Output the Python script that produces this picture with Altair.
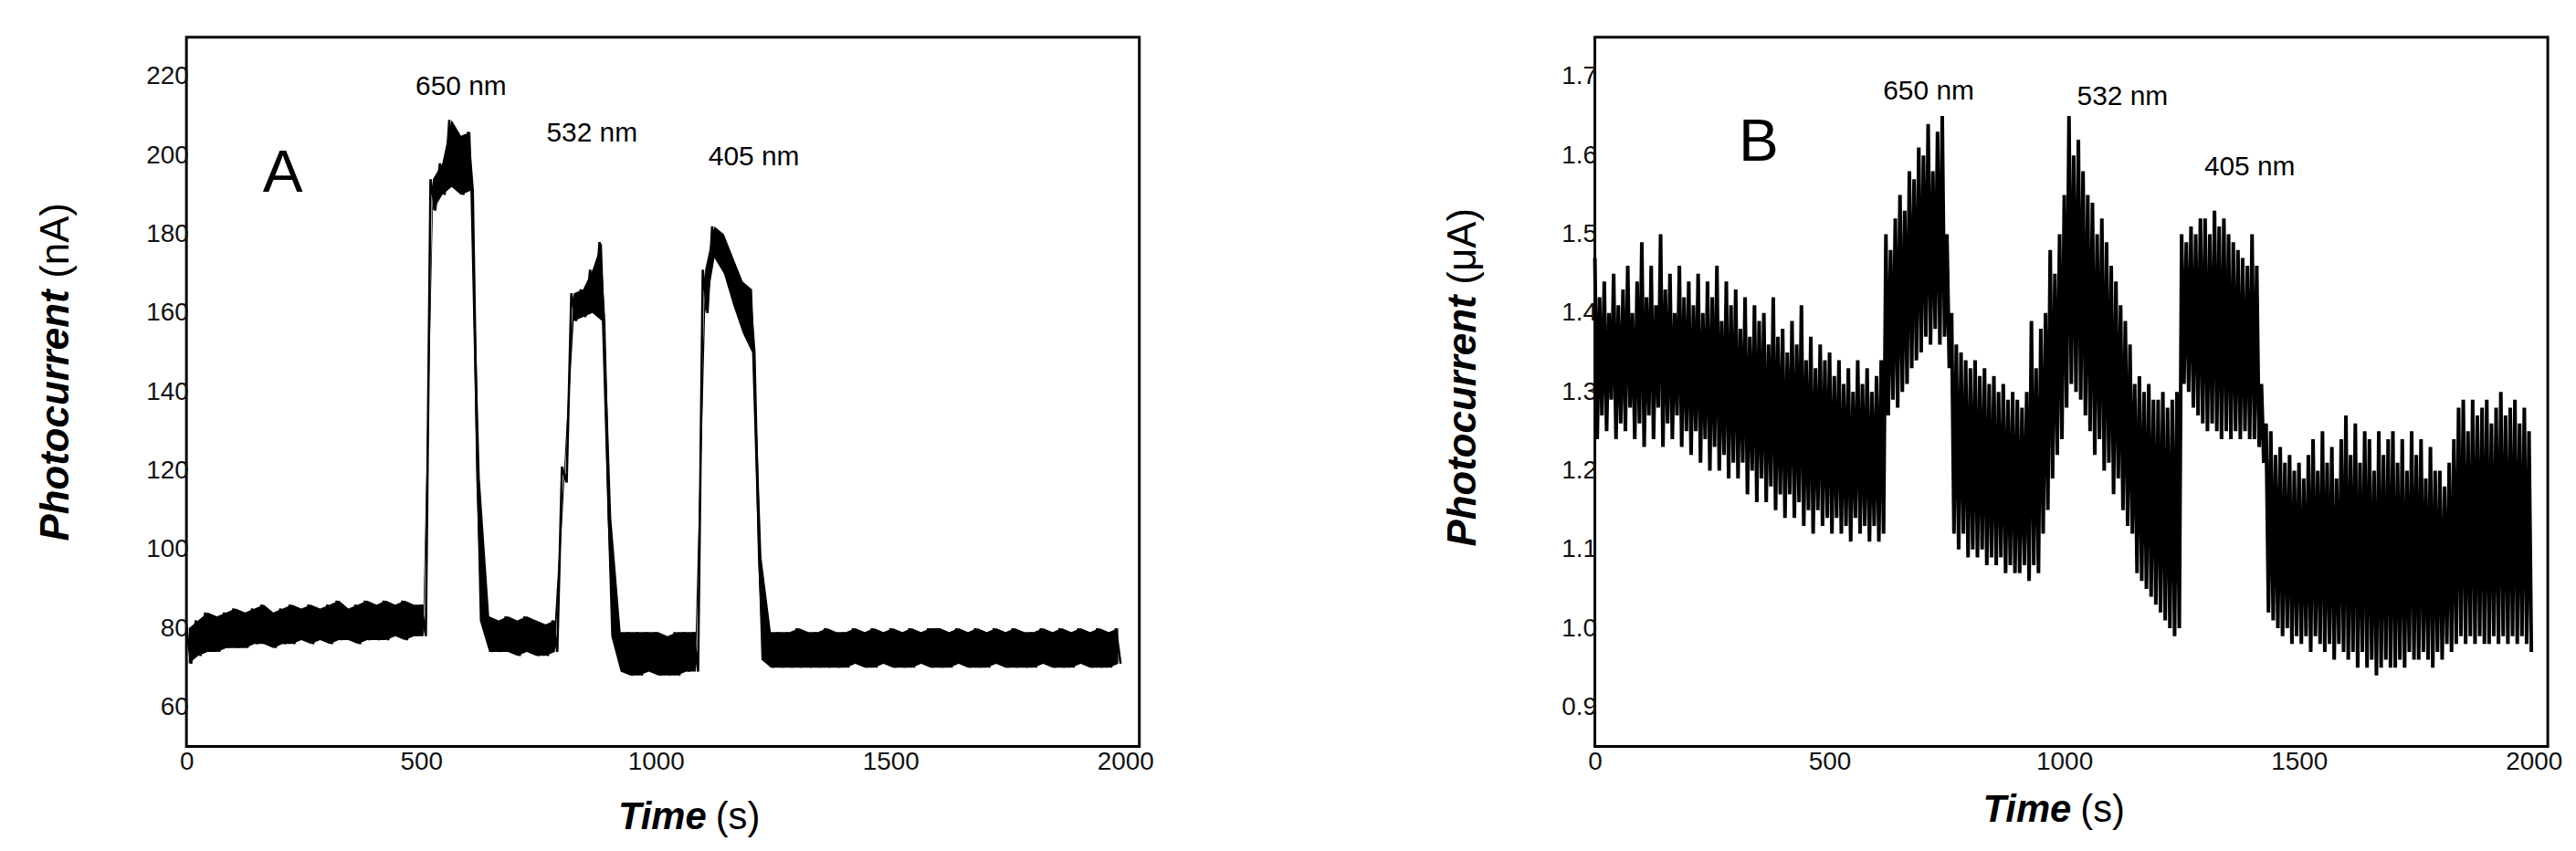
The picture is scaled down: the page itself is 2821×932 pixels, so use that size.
import altair as alt
import pandas as pd

# ---------------- data ----------------
# Panel A: photocurrent (nA), sampled every 20 s, upper / lower envelope of the noisy trace
A_STEP = 20
a_hi = [80, 82, 84, 83, 84, 85, 84, 85, 86, 84,
        85, 86, 85, 86, 85, 86, 87, 85, 86, 87,
        86, 87, 86, 87, 86, 86, 194, 198, 209, 205,
        206, 118, 83, 82, 83, 82, 83, 82, 81, 82,
        121, 165, 166, 171, 178, 108, 79, 79, 79, 79,
        79, 78, 79, 79, 79, 171, 182, 180, 174, 168,
        166, 98, 79, 79, 79, 80, 79, 79, 80, 79,
        79, 80, 79, 80, 79, 80, 79, 80, 79, 80,
        80, 79, 80, 79, 80, 79, 80, 79, 80, 79,
        79, 80, 79, 80, 79, 80, 79, 80, 79, 80]
a_lo = [71, 73, 74, 74, 75, 75, 75, 76, 76, 75,
        76, 76, 77, 76, 77, 76, 77, 77, 76, 77,
        77, 77, 78, 77, 78, 78, 186, 190, 192, 190,
        191, 82, 74, 74, 74, 73, 74, 73, 73, 74,
        117, 158, 159, 160, 158, 78, 69, 68, 68, 69,
        68, 68, 68, 69, 69, 160, 174, 170, 162, 155,
        150, 72, 70, 70, 70, 70, 70, 70, 70, 70,
        70, 71, 70, 70, 71, 70, 70, 70, 71, 70,
        70, 70, 71, 70, 70, 70, 71, 70, 70, 70,
        70, 71, 70, 70, 70, 71, 70, 70, 70, 71]

# Panel B: photocurrent (uA), sampled every 10 s
B_STEP = 10
b_hi = [1.47, 1.42, 1.44, 1.40, 1.45, 1.41, 1.43, 1.46, 1.40, 1.44,
        1.49, 1.42, 1.46, 1.41, 1.50, 1.43, 1.45, 1.40, 1.46, 1.42,
        1.44, 1.41, 1.45, 1.40, 1.44, 1.42, 1.46, 1.39, 1.44, 1.41,
        1.43, 1.38, 1.42, 1.37, 1.41, 1.39, 1.40, 1.36, 1.42, 1.37,
        1.38, 1.35, 1.39, 1.36, 1.41, 1.34, 1.37, 1.33, 1.36, 1.34,
        1.35, 1.32, 1.34, 1.31, 1.33, 1.30, 1.34, 1.31, 1.33, 1.30,
        1.32, 1.34, 1.50, 1.48, 1.52, 1.55, 1.53, 1.58, 1.57, 1.61,
        1.60, 1.64, 1.58, 1.63, 1.65, 1.50, 1.40, 1.36, 1.35, 1.34,
        1.33, 1.34, 1.32, 1.33, 1.31, 1.32, 1.30, 1.31, 1.29, 1.30,
        1.29, 1.28, 1.30, 1.39, 1.33, 1.38, 1.40, 1.48, 1.45, 1.50,
        1.55, 1.65, 1.60, 1.62, 1.58, 1.55, 1.54, 1.50, 1.52, 1.49,
        1.46, 1.44, 1.41, 1.39, 1.36, 1.31, 1.32, 1.30, 1.31, 1.29,
        1.29, 1.30, 1.28, 1.29, 1.30, 1.50, 1.49, 1.51, 1.50, 1.52,
        1.52, 1.50, 1.53, 1.51, 1.52, 1.50, 1.49, 1.48, 1.47, 1.46,
        1.50, 1.46, 1.31, 1.26, 1.25, 1.22, 1.23, 1.21, 1.22, 1.20,
        1.21, 1.19, 1.22, 1.24, 1.20, 1.25, 1.21, 1.23, 1.19, 1.24,
        1.27, 1.22, 1.26, 1.21, 1.25, 1.24, 1.20, 1.25, 1.22, 1.24,
        1.25, 1.21, 1.24, 1.20, 1.25, 1.22, 1.24, 1.19, 1.23, 1.20,
        1.20, 1.18, 1.21, 1.24, 1.28, 1.29, 1.25, 1.29, 1.27, 1.28,
        1.29, 1.26, 1.28, 1.30, 1.27, 1.28, 1.29, 1.26, 1.28, 1.25]
b_lo = [1.24, 1.27, 1.25, 1.29, 1.24, 1.26, 1.25, 1.28, 1.24, 1.26,
        1.23, 1.27, 1.24, 1.28, 1.23, 1.26, 1.24, 1.27, 1.23, 1.25,
        1.22, 1.25, 1.21, 1.24, 1.20, 1.23, 1.20, 1.22, 1.19, 1.21,
        1.19, 1.21, 1.17, 1.20, 1.16, 1.19, 1.16, 1.18, 1.15, 1.17,
        1.14, 1.17, 1.14, 1.16, 1.13, 1.15, 1.12, 1.15, 1.13, 1.14,
        1.12, 1.14, 1.12, 1.13, 1.11, 1.14, 1.12, 1.13, 1.11, 1.13,
        1.11, 1.12, 1.27, 1.29, 1.28, 1.30, 1.31, 1.33, 1.34, 1.35,
        1.37, 1.36, 1.38, 1.36, 1.37, 1.33, 1.12, 1.10, 1.12, 1.09,
        1.10, 1.09, 1.10, 1.08, 1.09, 1.08, 1.09, 1.07, 1.08, 1.07,
        1.07, 1.08, 1.06, 1.08, 1.07, 1.12, 1.15, 1.19, 1.22, 1.24,
        1.28, 1.31, 1.30, 1.29, 1.27, 1.25, 1.22, 1.24, 1.20, 1.21,
        1.17, 1.19, 1.15, 1.13, 1.12, 1.07, 1.06, 1.05, 1.04, 1.03,
        1.02, 1.01, 1.00, 0.99, 1.00, 1.31, 1.30, 1.28, 1.27, 1.26,
        1.25, 1.26, 1.25, 1.24, 1.25, 1.24, 1.25, 1.24, 1.25, 1.24,
        1.24, 1.23, 1.21, 1.02, 1.01, 1.00, 0.99, 1.00, 0.98, 0.99,
        0.98, 0.99, 0.97, 0.99, 0.98, 0.97, 0.98, 0.96, 0.98, 0.97,
        0.96, 0.97, 0.95, 0.97, 0.95, 0.96, 0.94, 0.95, 0.96, 0.95,
        0.95, 0.96, 0.95, 0.97, 0.96, 0.96, 0.97, 0.96, 0.95, 0.97,
        0.96, 0.98, 0.97, 0.98, 0.99, 0.98, 0.99, 0.98, 0.99, 0.98,
        0.98, 0.99, 0.98, 0.99, 0.98, 0.99, 0.98, 0.99, 0.98, 0.97]

wavelengths = ["650 nm", "532 nm", "405 nm"]
a_label_t = [585, 864, 1209]
a_label_v = [217.5, 205.5, 199.5]
b_label_t = [711, 1124, 1395]
b_label_v = [1.681, 1.674, 1.585]

x_ticks = [0, 500, 1000, 1500, 2000]
a_ticks = [60, 80, 100, 120, 140, 160, 180, 200, 220]
b_ticks = [0.9, 1.0, 1.1, 1.2, 1.3, 1.4, 1.5, 1.6, 1.7]

FONT = "Liberation Sans"
W, H = 1048, 780


def zigzag(hi, lo, step):
    rows = []
    for k, (h, l) in enumerate(zip(hi, lo)):
        t = k * step
        rows.append({"t": t, "v": h, "o": 2 * k})
        rows.append({"t": t + step / 2, "v": l, "o": 2 * k + 1})
    return pd.DataFrame(rows)


def band(hi, lo, step):
    return pd.DataFrame({"t": [k * step + step / 4 for k in range(len(hi))],
                         "hi": hi, "lo": lo})


def panel(hi, lo, step, ydom, yticks, yfmt, labels_t, labels_v, letter, letter_t, letter_v,
          unit, ytitle_x, ytitle_center, time_right, time_y, stroke_w, fill_band):
    df = zigzag(hi, lo, step)
    xs = alt.Scale(domain=[0, 2030], nice=False, zero=False)
    ys = alt.Scale(domain=ydom, nice=False, zero=False)
    xaxis = alt.Axis(values=x_ticks, format="d", title=None, grid=False, ticks=False,
                     domain=False, labelFont=FONT, labelFontSize=28, labelColor="#111",
                     labelPadding=3, labelFlush=False)
    yaxis = alt.Axis(values=yticks, format=yfmt, title=None, grid=False, ticks=False,
                     domain=False, labelFont=FONT, labelFontSize=28, labelColor="#111",
                     labelPadding=-2)
    line = alt.Chart(df).mark_line(color="black", strokeWidth=stroke_w).encode(
        x=alt.X("t:Q", scale=xs, axis=xaxis),
        y=alt.Y("v:Q", scale=ys, axis=yaxis),
        order="o:Q",
    )
    layers = [line]
    if fill_band:
        area = alt.Chart(band(hi, lo, step)).mark_area(color="black").encode(
            x=alt.X("t:Q", scale=xs), y=alt.Y("lo:Q", scale=ys), y2="hi:Q")
        layers = [area, line]
    ann = alt.Chart(pd.DataFrame({"t": labels_t, "v": labels_v, "s": wavelengths})).mark_text(
        font=FONT, fontSize=30, color="black", baseline="middle", align="center"
    ).encode(x=alt.X("t:Q", scale=xs), y=alt.Y("v:Q", scale=ys), text="s:N")
    let = alt.Chart(pd.DataFrame({"t": [letter_t], "v": [letter_v], "s": [letter]})).mark_text(
        font=FONT, fontSize=66, color="black", baseline="middle", align="center"
    ).encode(x=alt.X("t:Q", scale=xs), y=alt.Y("v:Q", scale=ys), text="s:N")
    # axis titles (mixed bold-italic / regular)
    yt1 = alt.Chart(pd.DataFrame({"s": ["Photocurrent"]})).mark_text(
        font=FONT, fontSize=44, fontWeight="bold", fontStyle="italic", angle=270,
        align="left", baseline="middle", color="black"
    ).encode(text="s:N", x=alt.value(ytitle_x), y=alt.value(ytitle_center + 186))
    yt2 = alt.Chart(pd.DataFrame({"s": [unit]})).mark_text(
        font=FONT, fontSize=44, angle=270, align="right", baseline="middle", color="black"
    ).encode(text="s:N", x=alt.value(ytitle_x), y=alt.value(ytitle_center - 186))
    xt1 = alt.Chart(pd.DataFrame({"s": ["Time"]})).mark_text(
        font=FONT, fontSize=42, fontWeight="bold", fontStyle="italic",
        align="right", baseline="middle", color="black"
    ).encode(text="s:N", x=alt.value(time_right), y=alt.value(time_y))
    xt2 = alt.Chart(pd.DataFrame({"s": ["(s)"]})).mark_text(
        font=FONT, fontSize=42, align="left", baseline="middle", color="black"
    ).encode(text="s:N", x=alt.value(time_right + 10), y=alt.value(time_y))
    layers += [ann, let, yt1, yt2, xt1, xt2]
    return alt.layer(*layers).properties(
        width=W, height=H, view=alt.ViewBackground(stroke="black", strokeWidth=3))


pa = panel(a_hi, a_lo, A_STEP, [50, 230], a_ticks, "d", a_label_t, a_label_v, "A", 205, 195.5,
           "(nA)", -143, 368, 572, 858, 2.6, True)
pb = panel(b_hi, b_lo, B_STEP, [0.85, 1.75], b_ticks, ".1f", b_label_t, b_label_v, "B", 349, 1.617,
           "(\u03bcA)", -144, 374, 524, 850, 4.0, False)

chart = alt.hconcat(pa, pb, spacing=315).properties(
    padding={"left": 30, "top": 29, "right": 5, "bottom": 5}
).configure(background="white").configure_view(stroke="black", strokeWidth=3)

chart.save("out.html", embed_options={"renderer": "svg", "actions": False})
